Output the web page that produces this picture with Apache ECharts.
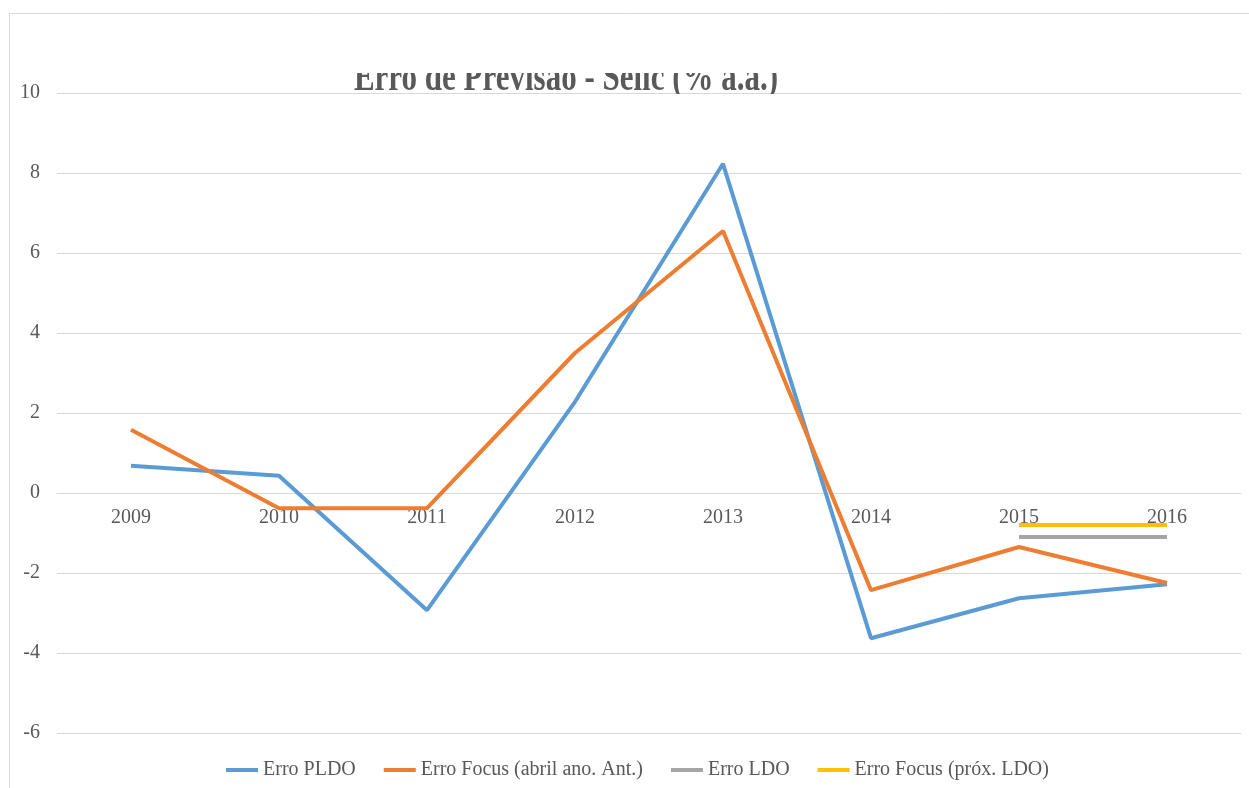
<!DOCTYPE html>
<html>
<head>
<meta charset="utf-8">
<script src="https://cdn.jsdelivr.net/npm/echarts@6/dist/echarts.min.js"></script>
<style>
html,body{margin:0;padding:0;background:#fff;}
#main{width:1249px;height:788px;}
</style>
</head>
<body>
<div id="main"></div>
<script>
var anos = ['2009','2010','2011','2012','2013','2014','2015','2016'];
var erroPLDO = [0.68, 0.43, -2.93, 2.28, 8.23, -3.63, -2.63, -2.28];
var erroFocus = [1.58, -0.38, -0.38, 3.5, 6.55, -2.43, -1.35, -2.25];
var erroLDO = ['-', '-', '-', '-', '-', '-', -1.1, -1.1];
var erroFocusProx = ['-', '-', '-', '-', '-', '-', -0.8, -0.8];

var fonte = '"Liberation Serif", "Times New Roman", serif';
var cinza = '#595959';

var chart = echarts.init(document.getElementById('main'));

function serie(name, data, color){
	return {
		name: name,
		type: 'line',
		data: data,
		symbol: 'none',
		lineStyle: {width: 4, color: color},
		itemStyle: {color: color},
		z: 3
	};
}

chart.setOption({
	animation: false,
	backgroundColor: '#fff',
	graphic: [
		{
			type: 'rect', z: -10, silent: true,
			shape: {x: 9.5, y: 13.5, width: 1400, height: 900},
			style: {fill: '#fff', stroke: '#d9d9d9', lineWidth: 1}
		},
		{
			type: 'text', z: 1, silent: true,
			x: 566, y: 100, scaleY: 1.35,
			style: {
				text: 'Erro de Previsão - Selic (% a.a.)',
				font: 'bold 31px ' + fonte,
				fill: cinza,
				align: 'center',
				verticalAlign: 'bottom'
			}
		},
		{
			type: 'rect', z: 2, silent: true,
			shape: {x: 300, y: 15, width: 660, height: 58},
			style: {fill: '#fff'}
		},
		{
			type: 'rect', z: 2, silent: true,
			shape: {x: 300, y: 94, width: 660, height: 30},
			style: {fill: '#fff'}
		}
	],
	grid: {left: 57, right: 8, top: 93, bottom: -25, outerBoundsMode: 'none', containLabel: false},
	legend: {
		top: 755,
		left: 221,
		itemWidth: 32,
		itemHeight: 4,
		itemGap: 28,
		icon: 'rect',
		textStyle: {fontFamily: fonte, fontSize: 20, color: cinza},
		data: ['Erro PLDO', 'Erro Focus (abril ano. Ant.)', 'Erro LDO', 'Erro Focus (próx. LDO)']
	},
	xAxis: {
		type: 'category',
		data: anos,
		boundaryGap: true,
		position: 'bottom',
		offset: -320,
		axisLine: {onZero: false, lineStyle: {color: '#d9d9d9', width: 1}},
		axisTick: {show: false},
		axisLabel: {fontFamily: fonte, fontSize: 20, color: cinza, margin: 15}
	},
	yAxis: {
		type: 'value',
		min: -8, max: 10, interval: 2,
		axisLine: {show: false},
		axisTick: {show: false},
		splitLine: {lineStyle: {color: '#d9d9d9', width: 1}},
		axisLabel: {fontFamily: fonte, fontSize: 20, color: cinza, margin: 17}
	},
	series: [
		serie('Erro PLDO', erroPLDO, '#5b9bd5'),
		serie('Erro Focus (abril ano. Ant.)', erroFocus, '#ed7d31'),
		serie('Erro LDO', erroLDO, '#a5a5a5'),
		serie('Erro Focus (próx. LDO)', erroFocusProx, '#ffc000')
	]
});
</script>
</body>
</html>
